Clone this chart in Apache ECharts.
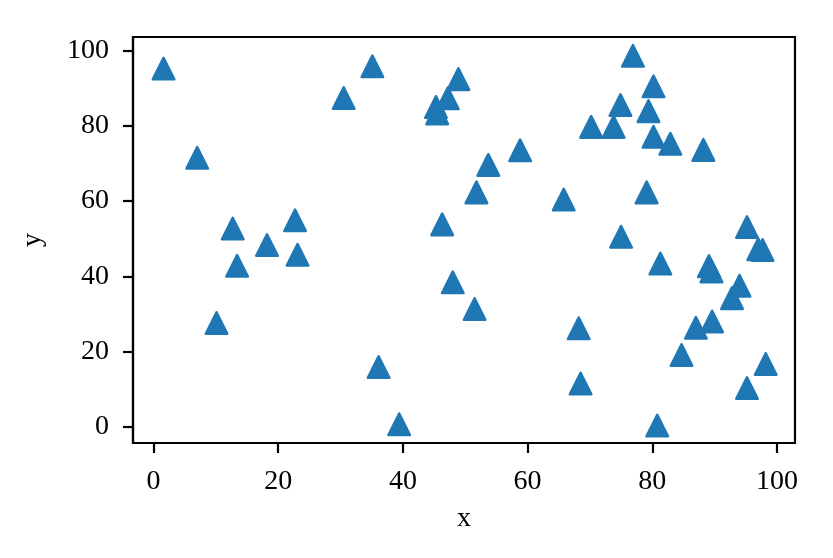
<!DOCTYPE html>
<html>
<head>
<meta charset="utf-8">
<script src="https://cdn.jsdelivr.net/npm/echarts@6/dist/echarts.min.js"></script>
<style>
    html, body { margin: 0; padding: 0; background: #fff; }
    #scatter { width: 833px; height: 558px; }
</style>
</head>
<body>
<div id="scatter"></div>
<script>
// values
var xValues = [1.6, 7.0, 12.7, 13.4, 10.1, 18.2, 22.7, 23.1, 30.5, 35.1,
    36.1, 39.4, 46.3, 48.0, 45.3, 45.5, 47.2, 48.9, 53.7, 51.8,
    58.8, 51.5, 65.8, 68.2, 68.5, 70.2, 73.8, 74.9, 76.9, 80.2,
    79.4, 80.2, 82.9, 88.2, 79.1, 75.0, 81.3, 80.8, 95.2, 97.0,
    97.7, 89.1, 89.5, 94.0, 92.8, 89.6, 87.0, 84.7, 98.2, 95.2]
var yValues = [95.2, 71.5, 52.7, 42.8, 27.6, 48.3, 54.9, 45.7, 87.4, 95.8,
    15.9, 0.7, 53.8, 38.4, 85.0, 83.3, 87.3, 92.4, 69.6, 62.3,
    73.5, 31.3, 60.4, 26.2, 11.5, 79.7, 79.7, 85.5, 98.6, 90.5,
    83.9, 77.1, 75.2, 73.6, 62.3, 50.5, 43.4, 0.35, 53.1, 47.2,
    47.0, 42.7, 41.3, 37.5, 34.2, 28.0, 26.3, 19.1, 16.7, 10.3]
var xTicks = [0, 20, 40, 60, 80, 100]
var yTicks = [0, 20, 40, 60, 80, 100]

var points = xValues.map(function (x, i) { return [x, yValues[i]] })

var font = 'Liberation Serif'
var axisCommon = {
    nameLocation: 'middle',
    nameTextStyle: { color: '#000', fontFamily: font, fontSize: 28 },
    axisLine: { show: true, onZero: false, lineStyle: { color: '#000', width: 2.2 } },
    axisTick: { show: true, inside: false, length: 10, lineStyle: { color: '#000', width: 2.2 } },
    splitLine: { show: false },
    axisLabel: { color: '#000', fontFamily: font, fontSize: 28 }
}

var option = {
    animation: false,
    backgroundColor: '#fff',
    grid: {
        left: 133,
        right: 38,
        top: 37,
        bottom: 115,
        show: true,
        borderColor: '#000',
        borderWidth: 2.2
    },
    xAxis: Object.assign({}, axisCommon, {
        type: 'value',
        name: 'x',
        nameGap: 62,
        min: -3.3,
        max: 102.9,
        axisTick: Object.assign({}, axisCommon.axisTick, { customValues: xTicks }),
        axisLabel: Object.assign({}, axisCommon.axisLabel, { customValues: xTicks, margin: 25 })
    }),
    yAxis: Object.assign({}, axisCommon, {
        type: 'value',
        name: 'y',
        nameGap: 86,
        min: -4.3,
        max: 103.6,
        axisTick: Object.assign({}, axisCommon.axisTick, { customValues: yTicks }),
        axisLabel: Object.assign({}, axisCommon.axisLabel, { customValues: yTicks, margin: 24 })
    }),
    series: [
        {
            type: 'scatter',
            symbol: 'triangle',
            symbolSize: 21.5,
            itemStyle: {
                color: '#1f77b4',
                opacity: 1,
                borderColor: '#1f77b4',
                borderWidth: 2.5,
                borderJoin: 'round'
            },
            data: points
        }
    ]
}

var myChart = echarts.init(document.getElementById('scatter'))
myChart.setOption(option)
</script>
</body>
</html>
